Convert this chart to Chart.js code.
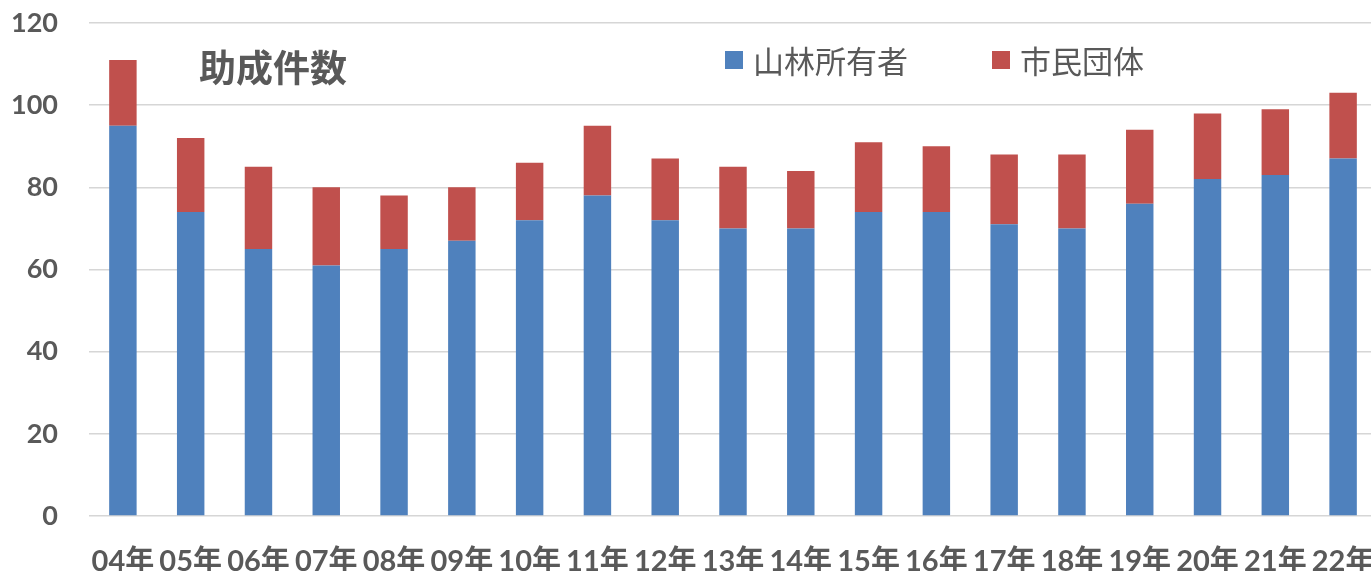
<!DOCTYPE html>
<html lang="ja">
<head>
<meta charset="UTF-8">
<title>助成件数</title>
<script src="https://cdn.jsdelivr.net/npm/chart.js@4/dist/chart.umd.min.js"></script>
<style>
    html, body { margin: 0; padding: 0; background: #fff; overflow: hidden; }
    #wrap { position: relative; width: 1377px; height: 571px; }
    #chart-title {
        position: absolute; left: 199px; top: 48px;
        font: bold 37px "Noto Sans CJK JP", sans-serif; line-height: 37px;
        color: #595959; letter-spacing: 0;
    }
    #legend {
        position: absolute; left: 725px; top: 44px;
        display: flex; align-items: center;
        font: 31px "Noto Sans CJK JP", sans-serif; line-height: 31px; color: #595959;
    }
    .legend-item { display: flex; align-items: center; margin-right: 84px; }
    .legend-box { width: 18px; height: 18px; margin-right: 10px; }
</style>
</head>
<body>
<div id="wrap">
    <canvas id="chart-grants"></canvas>
    <div id="chart-title">助成件数</div>
    <div id="legend"></div>
</div>
<script>
// ---- データ ----
const years = ['04年', '05年', '06年', '07年', '08年', '09年', '10年', '11年', '12年', '13年',
    '14年', '15年', '16年', '17年', '18年', '19年', '20年', '21年', '22年'];
const ownerCounts = [95, 74, 65, 61, 65, 67, 72, 78, 72, 70, 70, 74, 74, 71, 70, 76, 82, 83, 87];
const citizenCounts = [16, 18, 20, 19, 13, 13, 14, 17, 15, 15, 14, 17, 16, 17, 18, 18, 16, 16, 16];
const seriesLabels = ['山林所有者', '市民団体'];
const seriesColors = ['#4F81BD', '#C0504D'];
const yTicks = [0, 20, 40, 60, 80, 100, 120];

const TEXT_COLOR = '#595959';
const GRID_COLOR = '#d6d6d6';

// ---- 凡例 (HTML) ----
const legendEl = document.getElementById('legend');
seriesLabels.forEach((label, i) => {
    const item = document.createElement('div');
    item.className = 'legend-item';
    item.innerHTML = `<span class="legend-box" style="background:${seriesColors[i]}"></span><span>${label}</span>`;
    legendEl.appendChild(item);
});

// ---- グラフ ----
const ctx = document.getElementById('chart-grants').getContext('2d');
new Chart(ctx, {
    type: 'bar',
    data: {
        labels: years,
        datasets: [
            { label: seriesLabels[0], data: ownerCounts, backgroundColor: seriesColors[0] },
            { label: seriesLabels[1], data: citizenCounts, backgroundColor: seriesColors[1] },
        ]
    },
    options: {
        responsive: true,
        maintainAspectRatio: false,
        animation: false,
        devicePixelRatio: 1,
        layout: { padding: { top: 23, right: 0, bottom: 0, left: 0 } },
        categoryPercentage: 1,
        barPercentage: 0.405,
        plugins: { legend: { display: false }, tooltip: { enabled: false } },
        scales: {
            x: {
                stacked: true,
                grid: { display: false },
                border: { display: false },
                ticks: {
                    color: TEXT_COLOR,
                    font: { family: 'Lato, "Noto Sans CJK JP"', size: 29, weight: 'bold' },
                    padding: 20,
                    autoSkip: false,
                    maxRotation: 0,
                },
                // ラベルのはみ出し分の余白は取らない (右端は切れてよい)
                afterFit: s => { s.height = 55; s.paddingLeft = 0; s.paddingRight = 0; }
            },
            y: {
                stacked: true,
                min: 0,
                max: 120,
                afterBuildTicks: s => { s.ticks = yTicks.map(v => ({ value: v })); },
                grid: { color: GRID_COLOR, lineWidth: 1.6, drawTicks: false },
                border: { display: false },
                ticks: {
                    color: TEXT_COLOR,
                    font: { family: 'Lato, "Noto Sans CJK JP"', size: 27, weight: 'bold' },
                    padding: 31,
                },
                afterFit: s => { s.width = 89; s.paddingTop = 0; s.paddingBottom = 0; }
            }
        }
    }
});
</script>
</body>
</html>
